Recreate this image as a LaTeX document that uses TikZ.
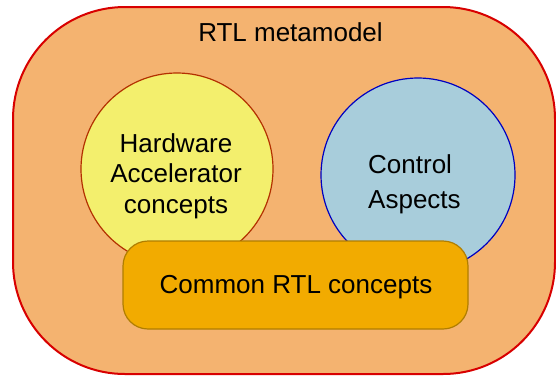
\documentclass[tikz,border=0pt]{standalone}
\usepackage{fontspec}
\setmainfont{Liberation Sans}
\definecolor{outerfill}{HTML}{F4B370}
\definecolor{outerline}{HTML}{D80000}
\definecolor{yelfill}{HTML}{F3EF6D}
\definecolor{yelline}{HTML}{B33000}
\definecolor{bluefill}{HTML}{A8CDDB}
\definecolor{blueline}{HTML}{0000C0}
\definecolor{boxfill}{HTML}{F2AB00}
\definecolor{boxline}{HTML}{B07E00}
\tikzset{
  lbl/.style={font=\fontsize{26}{30.5}\selectfont, inner sep=0pt},
}
\begin{document}
\begin{tikzpicture}[x=1pt,y=-1pt]
\useasboundingbox (0,0) rectangle (556,376);
\draw[line width=2pt, draw=outerline, fill=outerfill, rounded corners=112pt] (13,7) rectangle (555,374);
\node[circle, minimum size=192pt, inner sep=0pt, draw=yelline, line width=1.2pt, fill=yelfill] (hw) at (177,169) {};
\node[circle, minimum size=194pt, inner sep=0pt, draw=blueline, line width=1.2pt, fill=bluefill] (ctl) at (418,175) {};
\node[draw=boxline, line width=1.2pt, fill=boxfill, rounded corners=25pt, minimum width=345pt, minimum height=88pt, inner sep=0pt] (common) at (295.5,285) {};
\node[lbl, anchor=base] (title) at (290.5,41.5) {RTL metamodel};
\node[lbl, align=center, anchor=base] (hwt) at (176,213) {Hardware\\Accelerator\\concepts};
\node[lbl, align=left, anchor=base west, font=\fontsize{26}{35}\selectfont] (ctlt) at (368,208) {Control\\Aspects};
\node[lbl, anchor=base] (commont) at (296,293) {Common RTL concepts};
\end{tikzpicture}
\end{document}
